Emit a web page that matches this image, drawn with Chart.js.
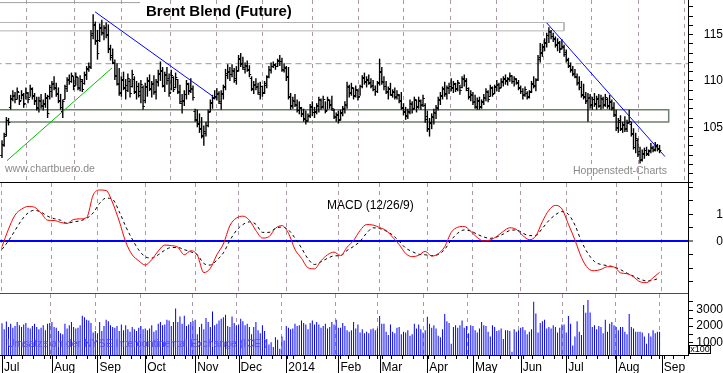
<!DOCTYPE html>
<html><head><meta charset="utf-8">
<script src="https://cdn.jsdelivr.net/npm/chart.js"></script>
<style>
html,body{margin:0;padding:0;background:#fff;}
#wrap{position:relative;width:723px;height:373px;overflow:hidden;background:#fff;}
canvas{position:absolute;left:0;}
</style></head><body>
<div id="wrap">
<canvas id="cPrice" width="723" height="183" style="top:0px"></canvas>
<canvas id="cMacd" width="723" height="111" style="top:183px"></canvas>
<canvas id="cVol" width="723" height="79" style="top:294px"></canvas>
</div>
<script>
// ---------- DATA ----------
const monthStarts = [0,23,44,66,89,109,131,155,174,196,217,239,260,283,304];
const monthLabels = ['Jul','Aug','Sep','Oct','Nov','Dec','2014','Feb','Mar','Apr','May','Jun','Jul','Aug','Sep'];

const openP = [
102.0,103.1,104.3,105.8,107.2,108.1,108.5,108.1,108.8,107.9,108.5,107.6,108.7,108.3,109.1,108.5,107.9,107.1,107.8,107.3,107.5,108.2,108.4,
108.9,109.8,109.2,108.7,107.8,106.8,108.1,109.2,110.2,110.0,110.5,109.6,110.4,109.2,110.0,109.8,110.6,111.3,111.5,115.2,116.1,
114.3,114.4,115.7,115.2,115.8,115.1,113.5,112.8,111.9,110.5,109.7,108.7,110.2,109.2,109.0,110.0,109.4,110.2,108.8,109.4,108.5,109.3,
107.9,109.3,110.1,109.1,109.8,108.9,109.9,110.8,111.2,109.5,110.6,110.3,108.8,110.4,109.3,110.2,108.8,107.6,107.8,108.6,109.7,109.0,109.1,
106.8,105.8,105.5,104.9,104.1,104.4,105.2,106.8,107.6,108.3,108.3,108.7,107.6,108.6,109.4,110.6,111.1,110.7,111.1,110.1,
111.2,112.5,111.9,111.3,111.6,111.3,110.3,109.1,109.7,109.4,108.6,109.4,108.8,109.6,110.5,111.2,111.6,111.7,111.6,112.3,112.2,111.2,
111.4,110.5,108.4,107.4,107.8,107.4,106.9,107.1,106.5,105.9,105.7,106.3,107.2,106.7,106.7,107.3,107.9,107.3,108.0,106.9,107.9,107.5,106.9,106.1,
106.4,105.9,106.5,107.1,107.4,109.3,108.8,109.2,108.5,109.0,108.4,109.5,110.4,110.0,110.1,109.9,109.6,109.1,108.9,
109.9,111.1,109.9,109.5,108.8,109.2,108.5,108.8,108.4,108.5,107.8,107.1,106.8,106.2,106.7,107.5,107.1,107.9,107.3,107.8,107.5,107.4,
106.2,104.8,105.5,106.1,106.5,107.1,107.9,108.4,109.2,108.6,109.2,109.5,109.2,109.7,109.2,109.8,109.3,110.2,110.1,109.0,108.4,
108.5,107.8,107.2,107.8,107.3,107.7,108.2,108.8,108.4,109.2,108.7,109.3,109.7,109.3,109.9,110.3,110.0,110.2,110.6,110.0,110.2,109.9,
109.2,108.9,108.6,108.7,108.4,108.9,109.7,109.5,110.2,112.6,113.1,113.7,114.1,115.0,115.3,114.9,114.5,113.9,114.1,113.5,113.7,
113.1,112.4,111.7,111.3,110.9,110.4,109.9,109.3,108.6,108.4,107.9,108.3,107.5,108.1,107.6,108.2,107.4,108.1,107.5,108.1,107.4,107.7,107.2,
106.3,104.9,105.8,104.8,105.4,104.9,105.6,105.4,104.3,102.9,103.6,102.4,101.6,102.1,102.6,102.2,102.5,102.8,102.7,103.0,102.8
];
const highP = [
103.6,104.4,106.1,106.0,108.5,109.0,108.8,109.3,108.5,109.0,108.7,109.3,108.8,109.6,109.3,108.7,108.3,108.3,108.6,108.0,108.7,108.5,109.6,
110.0,110.5,109.8,109.3,108.6,108.0,109.6,110.4,110.7,110.9,110.5,110.9,110.4,110.6,110.2,111.0,111.6,112.0,115.5,117.2,116.4,
115.5,116.2,116.6,116.0,116.3,116.1,113.9,113.5,112.3,111.9,111.4,110.5,111.0,110.2,110.8,110.2,111.2,110.5,110.0,109.8,110.1,109.5,
109.8,110.4,110.7,110.0,110.6,110.2,111.2,112.1,111.5,111.0,111.5,110.8,111.2,110.5,110.9,110.2,109.6,108.6,109.0,110.1,109.8,110.3,109.5,
107.0,106.9,106.5,106.1,105.2,105.6,106.9,108.0,108.5,109.0,109.2,108.9,109.0,109.6,111.3,111.8,111.5,111.8,111.4,111.6,
112.8,113.0,112.6,112.0,112.2,111.7,110.5,110.0,110.3,109.8,109.9,109.5,110.0,110.6,111.6,112.0,112.1,111.9,112.4,112.8,112.5,111.9,
111.6,111.5,108.7,108.3,108.6,108.0,107.8,107.2,107.0,106.8,106.5,107.5,107.8,107.2,107.6,108.3,108.1,108.4,107.8,108.3,108.0,108.4,107.0,106.6,
106.8,106.9,107.3,107.8,109.9,109.6,109.8,109.3,109.5,109.1,109.6,110.6,110.9,110.5,110.7,110.3,110.1,109.5,110.0,
112.4,111.5,110.5,110.0,109.4,109.8,109.1,109.3,109.0,108.6,108.8,107.6,107.2,107.0,108.0,107.8,108.3,108.0,108.3,108.0,108.5,107.6,
106.8,106.0,106.5,107.0,107.4,108.3,108.8,109.4,109.9,109.5,109.8,110.3,110.0,109.8,110.1,109.6,110.5,110.7,110.3,109.3,109.0,
108.8,108.5,108.2,108.3,108.0,108.6,109.2,109.0,109.6,109.4,109.6,110.1,109.8,110.3,110.5,110.7,110.4,110.9,110.6,110.5,110.3,110.1,
109.5,109.2,109.4,108.9,109.0,110.0,110.5,110.3,112.8,114.1,114.0,114.6,115.2,115.8,115.5,115.2,114.8,114.6,114.3,114.5,113.9,
113.4,112.5,112.0,111.6,111.3,110.8,110.5,110.0,109.7,108.8,108.7,108.6,108.3,108.7,108.4,108.6,108.5,108.3,108.6,108.2,108.5,108.0,107.7,
106.9,106.0,106.3,105.6,106.2,105.8,106.9,105.6,104.9,104.4,103.8,102.9,102.6,102.8,102.9,102.6,103.3,103.0,103.4,103.2,103.1
];
const lowP = [
101.7,102.9,104.0,105.2,106.9,107.8,107.6,108.0,107.4,108.0,107.1,108.0,107.6,108.3,108.0,107.4,106.8,106.6,107.0,106.8,107.1,106.0,108.0,
108.2,109.0,108.3,107.6,106.9,106.0,108.0,108.8,109.6,109.8,109.0,109.5,109.0,108.9,108.8,109.6,110.1,111.0,111.3,114.5,113.9,
112.3,114.2,114.9,114.4,114.6,113.0,112.2,111.8,110.1,109.5,108.4,108.3,109.0,108.0,108.8,108.2,109.3,108.6,108.0,108.2,107.6,106.9,
107.6,108.3,108.9,108.2,108.5,108.0,109.4,110.0,109.3,108.8,109.6,108.3,109.0,108.8,109.2,108.6,107.5,106.5,107.3,108.0,108.5,108.7,107.9,
105.6,105.0,104.4,103.8,103.0,104.0,105.0,106.6,107.0,108.0,107.9,107.5,106.9,108.0,109.0,110.2,110.0,110.4,109.8,109.6,
111.0,111.5,111.2,110.8,111.0,110.4,108.9,108.6,109.0,108.5,108.0,108.3,108.6,109.2,110.3,110.8,111.4,111.2,111.5,111.6,111.0,110.9,
110.0,108.0,106.9,107.0,107.2,106.6,106.4,106.1,105.6,105.3,105.6,106.0,106.2,106.0,106.4,106.6,106.9,107.0,106.5,106.9,107.0,106.8,105.9,105.6,
105.4,105.7,106.2,106.5,107.0,108.2,108.4,108.0,108.2,107.9,108.4,109.2,109.6,109.3,109.6,109.2,108.9,108.4,108.7,
109.5,109.6,109.0,108.6,108.0,108.4,108.2,108.0,108.0,107.6,106.9,106.3,105.8,105.9,106.4,106.5,106.9,106.6,107.0,106.9,107.2,105.5,
104.5,104.0,104.8,105.3,105.9,106.8,107.4,108.0,108.3,108.0,108.6,108.9,108.7,108.8,108.9,108.5,109.2,109.4,108.9,108.0,107.8,
107.4,107.0,106.9,106.9,107.0,107.4,107.8,107.7,108.3,108.3,108.6,108.9,108.8,109.2,109.4,109.6,109.5,109.9,109.7,109.4,109.6,109.0,
108.6,108.0,108.3,108.0,108.1,108.7,109.2,108.9,110.0,112.0,112.6,113.2,113.6,114.1,114.5,114.2,113.6,113.2,113.0,113.4,112.6,
112.0,111.4,110.9,110.5,110.3,109.5,109.0,108.2,108.0,107.5,105.6,107.0,106.9,107.2,106.9,107.1,106.9,107.0,107.2,107.0,106.9,106.8,106.1,
104.6,104.4,104.6,104.4,104.5,104.5,105.4,104.0,102.6,102.2,101.8,101.1,101.3,101.6,101.9,101.9,102.2,102.3,102.4,102.4,102.2
];
const closeP = [
103.2,104.1,105.8,105.6,108.2,108.4,108.0,108.9,107.8,108.6,107.5,108.8,108.1,109.2,108.4,107.8,107.2,107.9,107.4,107.6,108.3,106.5,109.3,
109.7,109.3,108.6,107.9,107.2,107.8,109.4,110.1,110.0,110.6,109.4,110.5,109.3,110.2,109.1,110.8,111.4,111.6,115.0,116.0,114.4,
113.0,115.8,115.3,115.7,115.0,113.4,112.6,112.0,110.6,109.8,108.8,110.1,109.3,109.6,110.3,108.7,110.8,108.9,109.5,108.9,109.7,107.3,
109.4,110.0,109.2,109.7,108.8,110.0,110.9,111.1,109.6,110.7,110.1,108.7,110.6,109.1,110.4,108.9,107.8,107.9,108.6,109.8,108.9,109.2,108.3,
105.9,105.4,104.8,104.2,104.6,105.3,106.7,107.7,108.2,108.4,108.6,107.8,108.7,109.3,110.9,111.0,110.8,111.2,110.3,111.1,
112.4,111.8,111.5,111.7,111.2,110.7,109.2,109.6,109.3,108.8,109.5,108.7,109.8,110.4,111.3,111.6,111.8,111.6,112.2,112.1,111.3,111.5,
110.4,108.3,107.3,107.9,107.5,106.9,107.2,106.4,106.0,105.8,106.2,107.3,106.6,106.8,107.4,108.0,107.2,108.1,106.8,108.0,107.4,107.1,106.2,106.3,
105.8,106.6,107.0,107.5,109.5,108.7,109.3,108.4,109.1,108.3,109.4,110.3,109.9,110.2,109.8,109.5,109.1,108.9,109.8,
111.0,110.0,109.4,108.9,109.1,108.6,108.9,108.3,108.6,107.9,107.2,106.7,106.3,106.8,107.6,107.0,108.0,107.2,107.9,107.4,108.2,105.9,
104.9,105.6,106.2,106.6,107.2,108.0,108.5,109.1,108.7,109.3,109.4,109.3,109.8,109.1,109.9,109.0,110.3,110.0,109.2,108.3,108.6,
107.7,107.3,107.9,107.2,107.8,108.3,108.9,108.0,109.3,108.6,109.4,109.6,109.2,110.0,110.2,110.1,110.3,110.5,110.0,110.3,109.8,109.3,
108.9,108.5,109.1,108.3,108.8,109.8,109.6,110.1,112.4,113.0,113.8,114.2,115.0,115.4,114.8,114.6,114.0,114.2,113.4,113.8,112.9,
112.3,111.6,111.2,110.8,110.5,109.8,109.3,108.5,108.3,107.8,108.2,107.4,108.0,107.5,108.1,107.3,108.2,107.4,108.3,107.3,107.8,107.1,106.4,
105.0,105.6,104.9,105.3,104.8,105.5,105.7,104.4,102.9,103.8,102.1,101.5,102.2,102.5,102.1,102.4,102.9,102.6,103.1,102.7,102.5
];
const volume = [
2170,1800,2280,1950,2150,1900,2000,2250,2050,1950,2100,2200,1900,1850,2000,2150,1950,1800,1900,2050,1750,2150,2200,
2250,1950,1900,1700,1550,1500,2150,1850,2050,2250,1950,1850,1900,2050,2650,2550,2400,2350,2200,1600,1700,
1550,2250,1700,2000,2400,2300,2050,1950,1900,2000,1700,2100,1750,2050,1800,1650,1950,1800,1700,1900,2000,1800,
1850,1750,1850,2050,1650,1750,2150,2250,2050,2100,2400,2350,2000,2250,3100,2250,2600,2150,2650,2000,2100,2250,2300,
2400,1500,1950,2150,1800,2500,2250,1950,2900,2050,2150,2350,2450,2550,2700,2000,1950,2600,2200,2050,
2100,2450,2300,2050,2150,1950,1500,1950,2250,1750,1550,2050,1700,1200,850,1000,700,1300,1150,600,1350,1100,
2000,1900,1800,1850,2150,2000,2050,2350,2200,2100,1800,2200,2350,2100,2250,2100,1900,2000,2150,1850,1950,2250,2100,2400,
1900,1900,2200,2000,1750,1650,1750,2250,1850,2100,1600,1800,1550,1650,1550,1800,1850,1750,1850,
2630,2150,2150,1650,1450,2100,1650,1550,1900,1950,1500,1650,1600,1750,1400,1500,2150,1850,2100,1800,1600,1750,
2580,2150,1900,2050,1850,1400,1300,1800,2750,2300,2200,900,1950,2050,1900,2050,2350,1900,2000,1550,2050,
2000,1750,1600,1850,2250,2050,2000,1650,1350,2050,1950,1700,1750,1850,1200,1750,1750,1700,400,1800,1650,1750,
1900,1950,1750,1500,1650,1800,3520,2790,1600,2200,2300,2400,1850,1950,1850,2050,1950,1600,1900,2100,2100,
1600,2630,2150,800,1350,2300,1650,1450,3310,2835,3620,2850,1950,2050,1800,2000,1950,1550,2400,1650,2150,2250,2050,
1950,1750,1950,1950,1650,1500,2750,1950,1850,1650,1650,1650,1600,1350,900,1550,1350,1750,1550,1650,1650
];
const macdDays = [0,3,6,9,12,15,18,21,24,27,30,33,36,39,42,45,48,51,54,57,60,63,66,69,72,75,78,81,84,87,90,93,96,99,102,105,108,111,114,117,120,123,126,129,132,135,138,141,144,147,150,153,156,159,162,165,168,171,174,177,180,183,186,189,192,195,198,201,204,207,210,213,216,219,222,225,228,231,234,237,240,243,246,249,252,255,258,261,264,267,270,273,276,279,282,285,288,291,294,297,300,303];
const macdLine = [-0.2,0.45,0.97,1.19,1.29,1.26,1.05,0.78,0.77,0.7,0.66,0.81,0.83,0.88,1.71,1.9,1.88,1.42,0.75,-0.02,-0.5,-0.72,-0.88,-0.68,-0.36,-0.14,-0.16,-0.22,-0.5,-0.35,-0.51,-1.16,-1.0,-0.5,-0.1,0.58,0.86,0.93,0.78,0.4,0.12,0.17,0.48,0.58,0.3,-0.3,-0.63,-0.98,-1.02,-0.72,-0.5,-0.4,-0.53,-0.22,0.03,0.4,0.62,0.6,0.51,0.4,0.15,-0.12,-0.45,-0.57,-0.52,-0.37,-0.55,-0.46,-0.2,0.33,0.52,0.55,0.37,0.14,0.01,0.05,0.18,0.37,0.5,0.44,0.21,0.06,0.2,0.73,1.15,1.33,1.2,0.63,0.05,-0.6,-1.0,-1.09,-1.04,-0.94,-0.95,-1.17,-1.2,-1.32,-1.5,-1.53,-1.35,-1.15];
const signalLine = [-0.3,0.02,0.4,0.78,1.05,1.15,1.08,0.93,0.84,0.78,0.67,0.72,0.76,0.85,1.05,1.41,1.6,1.55,1.1,0.55,0.08,-0.32,-0.57,-0.62,-0.5,-0.33,-0.23,-0.23,-0.31,-0.39,-0.5,-0.82,-0.88,-0.7,-0.43,0.03,0.4,0.62,0.72,0.63,0.33,0.33,0.48,0.53,0.42,0.12,-0.25,-0.65,-0.86,-0.76,-0.63,-0.54,-0.53,-0.34,-0.19,0.0,0.3,0.5,0.47,0.38,0.23,0.0,-0.25,-0.38,-0.48,-0.5,-0.53,-0.49,-0.3,0.05,0.3,0.42,0.38,0.26,0.16,0.11,0.16,0.27,0.4,0.42,0.3,0.21,0.22,0.48,0.77,0.98,1.1,1.0,0.6,0.0,-0.45,-0.75,-0.86,-0.9,-0.95,-1.05,-1.18,-1.29,-1.4,-1.47,-1.44,-1.36];

const priceTicks = [99,100,101,102,103,104,105,106,107,108,109,110,111,112,113,114,115,116,117,118];
const priceTickLabels = [105,110,115];
const macdTicks = [-1.5,-1,-0.5,0,0.5,1,1.5,2];
const macdTickLabels = [0,1];
const volTicks = [500,1000,1500,2000,2500,3000,3500];
const volTickLabels = [1000,2000,3000];

// drawn lines / zones (data coordinates: trading-day index, price)
const greenTrendDays = [2.3, 50.7],  greenTrendPrices = [101.4, 111.4];
const blueTrend1Days = [42.9, 97.2], blueTrend1Prices = [117.45, 108.33];
const blueTrend2Days = [251.0, 305.5], blueTrend2Prices = [116.26, 101.84];
const supportZoneDays = [-3, 307.2], supportZonePrices = [106.89, 105.56];
const upperZoneDays = [-3, 259], upperZonePrices = [116.3, 115.4];
const topLineDays = [-3, 63.6], topLinePrices = [118.45, 118.45];
const midLineDays = [-3, 320], midLinePrices = [111.86, 111.86];

const titleText = 'Brent Blend (Future)';
const sourceText = 'www.chartbuero.de';
const creditText = 'Hoppenstedt-Charts';
const macdText = 'MACD (12/26/9)';
const volText = 'Umsätze an der NYSE Intercontinental Exchange (ICE )';
const unitText = 'x100';

// ---------- RENDER ----------
const FONT = '"Liberation Sans", Arial, Helvetica, sans-serif';
Chart.defaults.font.family = FONT;
Chart.defaults.color = '#000';
const X_MIN = -0.92, X_MAX = 316.1;
const GRIDV = '#a898a8';

const pts = (xs, ys) => xs.map((x, i) => ({x, y: ys[i]}));
const rect = (xs, ys) => [{x:xs[0],y:ys[0]},{x:xs[1],y:ys[0]},{x:xs[1],y:ys[1]},{x:xs[0],y:ys[1]},{x:xs[0],y:ys[0]}];
const lineDs = (data, color, extra) => Object.assign({type:'line', data, borderColor:color, borderWidth:1, pointRadius:0, pointHoverRadius:0, fill:false, tension:0}, extra || {});
const noPad = s => { s.paddingTop = 0; s.paddingBottom = 0; s.paddingLeft = 0; s.paddingRight = 0; };

function hiddenX() {
  return {
    type:'linear', min:X_MIN, max:X_MAX, offset:false, bounds:'data',
    afterBuildTicks: s => { s.ticks = monthStarts.map(v => ({value:v})); },
    ticks:{display:false},
    grid:{drawOnChartArea:true, drawTicks:false, color:GRIDV, lineWidth:1},
    border:{display:false, dash:[4,4]},
    afterFit: s => { s.height = 0; noPad(s); }
  };
}
function rightY(min, max, tickVals, labelVals, pad, gridExtra) {
  return {
    type:'linear', position:'right', min, max, bounds:'data',
    afterBuildTicks: s => { s.ticks = tickVals.map(v => ({value:v})); },
    ticks:{autoSkip:false, crossAlign:'far', padding:pad, font:{size:12, family:FONT}, color:'#000',
      callback: v => labelVals.includes(v) ? String(v) : ''},
    grid:Object.assign({drawOnChartArea:false, drawTicks:true, tickLength:5, tickColor:'#000', tickWidth:1}, gridExtra || {}),
    border:{display:true, color:'#000', width:1},
    afterFit: s => { s.width = 35; noPad(s); }
  };
}
function textPlugin(id, items, extra) {
  return { id, afterDraw(chart) {
    const ctx = chart.ctx; ctx.save();
    ctx.textBaseline = 'alphabetic'; ctx.textAlign = 'left';
    for (const t of items) { ctx.font = t.font; ctx.fillStyle = t.color; ctx.fillText(t.text, t.x, t.y); }
    if (extra) extra(chart, ctx);
    ctx.restore();
  }};
}
const baseOpts = {responsive:false, animation:false, devicePixelRatio:1, events:[],
  layout:{padding:0}, plugins:{legend:{display:false}, tooltip:{enabled:false}}};

// OHLC open/close ticks
const ohlcTicks = { id:'ohlcTicks', afterDatasetsDraw(chart) {
  const xs = chart.scales.x, ys = chart.scales.y, ctx = chart.ctx;
  ctx.save(); ctx.strokeStyle = '#000'; ctx.lineWidth = 1; ctx.beginPath();
  for (let i = 0; i < highP.length; i++) {
    const x = xs.getPixelForValue(i);
    const yo = Math.round(ys.getPixelForValue(openP[i])) + 0.5;
    const yc = Math.round(ys.getPixelForValue(closeP[i])) + 0.5;
    ctx.moveTo(x - 1.8, yo); ctx.lineTo(x, yo);
    ctx.moveTo(x, yc); ctx.lineTo(x + 1.8, yc);
  }
  ctx.stroke(); ctx.restore();
}};

// Price panel
new Chart(document.getElementById('cPrice'), {
  type:'bar',
  data:{datasets:[
    lineDs(pts(greenTrendDays, greenTrendPrices), '#00c000', {order:-1}),
    lineDs(pts(blueTrend1Days, blueTrend1Prices), '#0000ff', {order:-1}),
    lineDs(pts(blueTrend2Days, blueTrend2Prices), '#0000ff', {order:-1}),
    {type:'bar', data: highP.map((h, i) => ({x:i, y:[lowP[i], h]})), backgroundColor:'#000', borderWidth:0,
      barThickness:1.4, inflateAmount:0, order:0},
    lineDs(rect(supportZoneDays, supportZonePrices), '#6f7f6f', {borderWidth:1.5, order:1}),
    lineDs(rect(upperZoneDays, upperZonePrices), '#b4b4b4', {order:1}),
    lineDs(pts(topLineDays, topLinePrices), '#a0a0a0', {order:1}),
    lineDs(pts(midLineDays, midLinePrices), '#8fa08f', {borderDash:[6,4], order:1})
  ]},
  options:Object.assign({}, baseOpts, {scales:{x:hiddenX(), y:rightY(98.99, 118.73, priceTicks, priceTickLabels, 8)}}),
  plugins:[ohlcTicks, textPlugin('priceTexts', [
    {text:titleText, x:146, y:16, font:'bold 15px '+FONT, color:'#000'},
    {text:sourceText, x:5, y:172, font:'10.5px '+FONT, color:'#8a8a8a'},
    {text:creditText, x:573, y:174, font:'10.5px '+FONT, color:'#8a8a8a'}
  ], (chart, ctx) => {
    const a = chart.chartArea;
    ctx.strokeStyle = '#000'; ctx.lineWidth = 1; ctx.beginPath();
    ctx.moveTo(a.left, a.bottom - 0.5); ctx.lineTo(a.right, a.bottom - 0.5); ctx.stroke();
  })]
});

// MACD panel
new Chart(document.getElementById('cMacd'), {
  type:'line',
  data:{datasets:[
    lineDs(pts(macdDays, macdLine), '#ff0000', {cubicInterpolationMode:'monotone', order:0}),
    lineDs(pts(macdDays, signalLine), '#000000', {borderDash:[3,3], cubicInterpolationMode:'monotone', order:1})
  ]},
  options:Object.assign({}, baseOpts, {scales:{x:hiddenX(), y:rightY(-1.952, 2.159, macdTicks, macdTickLabels, 21, {
    drawOnChartArea:true,
    color: c => (c.tick && c.tick.value === 0) ? '#0000ff' : 'rgba(0,0,0,0)',
    lineWidth: c => (c.tick && c.tick.value === 0) ? 2 : 1
  })}}),
  plugins:[textPlugin('macdTexts', [
    {text:macdText, x:327, y:26, font:'12px '+FONT, color:'#000'}
  ], (chart, ctx) => {
    const a = chart.chartArea;
    ctx.strokeStyle = '#504858'; ctx.lineWidth = 1; ctx.beginPath();
    ctx.moveTo(a.left, a.bottom - 0.5); ctx.lineTo(a.right, a.bottom - 0.5); ctx.stroke();
  })]
});

// Volume panel + time axis
const weekTicks = [];
for (let d = 2; d < X_MAX; d += 5) if (!monthStarts.includes(d)) weekTicks.push(d);
const axisTicks = monthStarts.concat(weekTicks).sort((a, b) => a - b);
new Chart(document.getElementById('cVol'), {
  type:'bar',
  data:{datasets:[
    {data: volume.map((v, i) => ({x:i, y:v})), backgroundColor:'#0000ff', borderWidth:0, barThickness:1, inflateAmount:0}
  ]},
  options:Object.assign({}, baseOpts, {scales:{
    x:{type:'linear', min:X_MIN, max:X_MAX, offset:false, bounds:'data',
      afterBuildTicks: s => { s.ticks = axisTicks.map(v => ({value:v})); },
      ticks:{autoSkip:false, maxRotation:0, minRotation:0, align:'start', labelOffset:2, padding:1,
        font:{size:12, family:FONT}, color:'#000',
        callback: v => { const k = monthStarts.indexOf(v); return k >= 0 ? monthLabels[k] : ''; }},
      grid:{drawOnChartArea:true, drawTicks:true, tickLength:4, tickColor:'#000', tickWidth:1, tickBorderDash:[],
        color: c => (c.tick && monthStarts.includes(c.tick.value)) ? GRIDV : 'rgba(0,0,0,0)'},
      border:{display:true, color:'#000', width:1, dash:[4,4]},
      afterFit: s => { s.height = 18; noPad(s); }
    },
    y:rightY(205, 3994, volTicks, volTickLabels, 1)
  }}),
  plugins:[textPlugin('volTexts', [
    {text:volText, x:7, y:53, font:'10.5px '+FONT, color:'#5a50e6'}
  ], (chart, ctx) => {
    const a = chart.chartArea, xs = chart.scales.x;
    ctx.strokeStyle = '#000'; ctx.lineWidth = 1; ctx.beginPath();
    for (const m of monthStarts) { const x = Math.round(xs.getPixelForValue(m)) + 0.5; ctx.moveTo(x, a.bottom); ctx.lineTo(x, chart.height); }
    ctx.stroke();
    ctx.fillStyle = '#fff'; ctx.fillRect(689, 51, 21, 8);
    ctx.strokeRect(689.5, 51.5, 21, 8);
    ctx.fillStyle = '#000'; ctx.font = '9px '+FONT; ctx.textAlign = 'center'; ctx.textBaseline = 'middle';
    ctx.fillText(unitText, 700, 56);
  })]
});
</script>
</body></html>
